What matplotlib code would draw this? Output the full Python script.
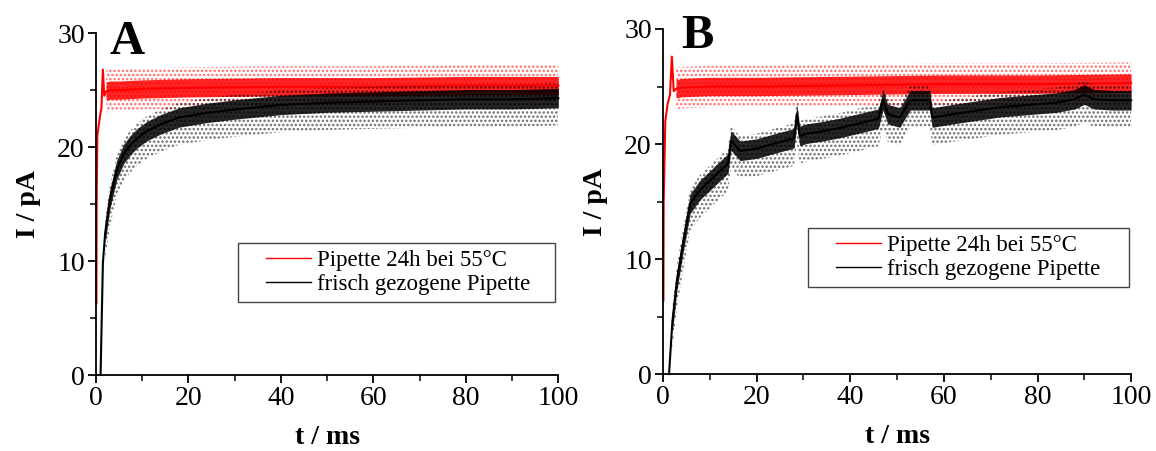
import numpy as np
import matplotlib
matplotlib.use('Agg')
import matplotlib.pyplot as plt
from matplotlib.lines import Line2D
from matplotlib.legend_handler import HandlerBase

plt.rcParams['font.family'] = ['Liberation Serif', 'DejaVu Serif']
plt.rcParams['hatch.linewidth'] = 1.2

# ---- Panel A ----
t_a_red = [0.1, 0.15, 0.3, 0.8, 1.2, 1.5, 1.8, 2.2, 3, 5, 10, 20, 40, 60, 80, 100]
i_a_red = [6.3, 15.0, 21.0, 22.5, 23.5, 26.8, 24.5, 24.9, 25.0, 25.0, 25.1, 25.2, 25.3, 25.3, 25.4, 25.4]

t_a_blk = [1.0, 1.5, 2, 3, 4.5, 6, 7.5, 9, 11, 14, 18, 24, 30, 40, 50, 60, 70, 80, 90, 100]
i_a_blk = [0, 9.8, 12.5, 15.4, 18.0, 19.4, 20.2, 20.8, 21.4, 22.0, 22.6, 23.0, 23.3, 23.7, 23.9, 24.0,
           24.1, 24.2, 24.2, 24.3]

# ---- Panel B ----
t_b_red = [0.1, 0.15, 0.5, 1.0, 1.5, 1.9, 2.3, 2.8, 4, 10, 20, 40, 60, 80, 100]
i_b_red = [6.4, 15.0, 22.0, 23.5, 24.3, 27.6, 24.6, 24.8, 24.9, 25.0, 25.0, 25.1, 25.2, 25.2, 25.3]

t_b_blk = [1.3, 2, 3, 4.3, 5.8, 7.9, 10, 11.5, 13.9, 14.5, 16.5, 20, 23.5, 28, 28.6, 29.2, 30.7, 34,
           37.8, 42, 46, 47, 48, 50.6, 52.8, 57, 57.5, 62, 67, 72, 78, 84, 88, 90, 92, 96, 100]
i_b_blk = [0, 4.5, 8.2, 11.4, 14.8, 16.0, 16.8, 17.4, 18.3, 20.3, 19.4, 19.6, 20.0, 20.5, 22.6, 20.7,
           20.9, 21.1, 21.4, 21.8, 22.2, 23.8, 22.6, 22.3, 23.8, 23.8, 22.3, 22.6, 22.9, 23.2, 23.4,
           23.6, 23.9, 24.3, 23.9, 23.8, 23.8]

# noise spread: (core half width, sparse below, sparse above)
red_spread = (0.8, 1.8, 1.8)
blk_spread = (0.85, 2.4, 1.3)

legend_labels = ['Pipette 24h bei 55°C', 'frisch gezogene Pipette']


class ShiftedLine(HandlerBase):
    # legend line drawn only on the right part of the handle box
    def create_artists(self, legend, orig_handle, xdescent, ydescent, width, height, fontsize, trans):
        y = height / 2 - ydescent
        x0 = -xdescent + 0.32 * width
        line = Line2D([x0, -xdescent + width], [y, y], color=orig_handle.get_color(),
                      lw=orig_handle.get_linewidth(), transform=trans)
        return [line]


def draw_trace(ax, t, i, color, spread, band_from, z):
    t = np.asarray(t, dtype=float)
    i = np.asarray(i, dtype=float)
    core, below, above = spread
    mask = t >= band_from
    ax.fill_between(t, i - below, i + above, where=mask, facecolor='none', edgecolor=color,
                    hatch='....', lw=0, alpha=0.55, zorder=z)
    ax.fill_between(t, i - core, i + core, where=mask, color=color, alpha=0.85, lw=0, zorder=z)
    ax.plot(t, i, color=color, lw=1.5, zorder=z + 0.1, clip_on=False)


def style_axis(ax):
    ax.set_xlim(0, 100)
    ax.set_ylim(0, 30)
    ax.spines['top'].set_visible(False)
    ax.spines['right'].set_visible(False)
    for s in ['left', 'bottom']:
        ax.spines[s].set_linewidth(1.3)
    ax.set_xticks([0, 20, 40, 60, 80, 100])
    ax.set_xticks([10, 30, 50, 70, 90], minor=True)
    ax.set_yticks([0, 10, 20, 30])
    ax.set_yticks([5, 15, 25], minor=True)
    ax.tick_params(which='major', direction='out', length=6, width=1.3, labelsize=20, pad=2)
    ax.tick_params(which='minor', direction='out', length=4, width=1.1)
    ax.set_xlabel('t / ms', fontsize=20, fontweight='bold', labelpad=10)
    ax.set_ylabel('I / pA', fontsize=20, fontweight='bold', labelpad=12)


def add_legend(ax, box):
    handles = [Line2D([], [], color='red', lw=1), Line2D([], [], color='black', lw=1)]
    leg = ax.legend(handles, legend_labels, loc='lower left', bbox_to_anchor=box, mode='expand',
                    borderaxespad=0, fontsize=16.5, fancybox=False, edgecolor='#444444',
                    framealpha=1, handlelength=2.9, borderpad=0.3, labelspacing=0.15,
                    handletextpad=0.25, handler_map={Line2D: ShiftedLine()})
    leg.get_frame().set_linewidth(1.0)
    leg.set_zorder(5)


fig = plt.figure(figsize=(11.56, 4.51), dpi=100)
ax_a = fig.add_axes([0.083, 0.1685, 0.400, 0.758])
ax_b = fig.add_axes([0.5735, 0.1707, 0.405, 0.765])

draw_trace(ax_a, t_a_red, i_a_red, 'red', red_spread, 2.2, 2)
draw_trace(ax_a, t_a_blk, i_a_blk, 'black', blk_spread, 2, 2.3)
style_axis(ax_a)
ax_a.text(0.03, 1.038, 'A', transform=ax_a.transAxes, fontsize=35, fontweight='bold', va='top')
add_legend(ax_a, (0.307, 0.213, 0.686, 0.1))

draw_trace(ax_b, t_b_red, i_b_red, 'red', red_spread, 2.8, 2)
draw_trace(ax_b, t_b_blk, i_b_blk, 'black', blk_spread, 2, 2.3)
style_axis(ax_b)
ax_b.text(0.04, 1.043, 'B', transform=ax_b.transAxes, fontsize=35, fontweight='bold', va='top')
add_legend(ax_b, (0.310, 0.252, 0.686, 0.1))

fig.savefig('out.png', dpi=100)
